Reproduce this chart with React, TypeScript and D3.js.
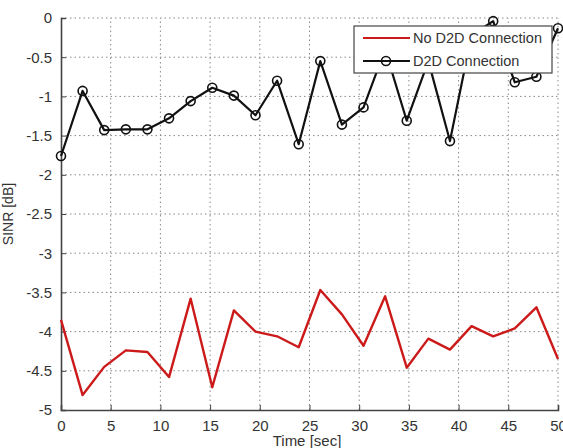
import React, {useRef, useEffect} from 'react';
import * as d3 from 'd3';

// time samples (24 points evenly over 0..50 sec)
const times = d3.range(24).map(i => i * 50 / 23);
const noD2D = [-3.85, -4.81, -4.45, -4.24, -4.26, -4.58, -3.58, -4.71, -3.73, -4.0, -4.06, -4.2,
  -3.47, -3.78, -4.18, -3.55, -4.46, -4.09, -4.23, -3.93, -4.06, -3.96, -3.69, -4.35];
const withD2D = [-1.76, -0.93, -1.43, -1.42, -1.42, -1.28, -1.06, -0.89, -0.99, -1.24, -0.8, -1.61,
  -0.55, -1.36, -1.14, -0.4, -1.31, -0.55, -1.57, -0.22, -0.04, -0.82, -0.75, -0.13];
const xTicks = [0, 5, 10, 15, 20, 25, 30, 35, 40, 45, 50];
const yTicks = [0, -0.5, -1, -1.5, -2, -2.5, -3, -3.5, -4, -4.5, -5];
const legendLabels = ['No D2D Connection', 'D2D Connection'];

export default function App() {
  const ref = useRef<SVGSVGElement>(null);
  const W = 563, H = 448;
  const margin = {top: 18, right: 5, bottom: 38, left: 61};

  useEffect(() => {
    const svg = d3.select(ref.current);
    svg.selectAll('*').remove();
    const font = 'Arial, "Liberation Sans", sans-serif';

    const x = d3.scaleLinear().domain([0, 50]).range([margin.left, W - margin.right]);
    const y = d3.scaleLinear().domain([-5, 0]).range([H - margin.bottom, margin.top]);

    // grid
    const grid = svg.append('g');
    grid.selectAll('line.gx').data(xTicks.slice(1)).enter().append('line')
      .attr('x1', d => x(d)).attr('x2', d => x(d))
      .attr('y1', y(-5)).attr('y2', y(0))
      .attr('stroke', '#888').attr('stroke-width', 1).attr('stroke-dasharray', '1.5,3');
    grid.selectAll('line.gy').data(yTicks.slice(0, -1)).enter().append('line')
      .attr('x1', x(0)).attr('x2', x(50))
      .attr('y1', d => y(d)).attr('y2', d => y(d))
      .attr('stroke', '#888').attr('stroke-width', 1).attr('stroke-dasharray', '1.5,3');

    // axes (ticks inside like matlab)
    const xAxis = svg.append('g').attr('transform', `translate(0,${y(-5)})`)
      .call(d3.axisBottom(x).tickValues(xTicks).tickSize(-5).tickPadding(10).tickFormat(d3.format('d')));
    const yAxis = svg.append('g').attr('transform', `translate(${x(0)},0)`)
      .call(d3.axisLeft(y).tickValues(yTicks).tickSize(-5).tickPadding(9).tickFormat(d => String(d)));
    [xAxis, yAxis].forEach(a => {
      a.select('.domain').attr('stroke', '#444').attr('stroke-width', 1.6);
      a.selectAll('.tick line').attr('stroke', '#444');
      a.selectAll('.tick text').attr('fill', '#333').style('font-family', font).style('font-size', '15px');
    });

    // lines
    const line = d3.line<number>().x((d, i) => x(times[i])).y(d => y(d));
    svg.append('path').datum(noD2D).attr('d', line).attr('fill', 'none')
      .attr('stroke', '#cc1a1a').attr('stroke-width', 2.4).attr('stroke-linejoin', 'round');
    svg.append('path').datum(withD2D).attr('d', line).attr('fill', 'none')
      .attr('stroke', '#111').attr('stroke-width', 2.2).attr('stroke-linejoin', 'round');
    svg.append('g').selectAll('circle').data(withD2D).enter().append('circle')
      .attr('cx', (d, i) => x(times[i])).attr('cy', d => y(d)).attr('r', 4.5)
      .attr('fill', 'none').attr('stroke', '#111').attr('stroke-width', 1.6);

    // axis labels
    svg.append('text').attr('x', 307).attr('y', H - 2)
      .attr('text-anchor', 'middle').attr('fill', '#333')
      .style('font-family', font).style('font-size', '15px').text('Time [sec]');
    svg.append('text').attr('transform', `translate(13,${(y(0) + y(-5)) / 2}) rotate(-90)`)
      .attr('text-anchor', 'middle').attr('fill', '#333')
      .style('font-family', font).style('font-size', '14px').text('SINR [dB]');

    // legend
    const lg = svg.append('g').attr('transform', 'translate(354,26)');
    lg.append('rect').attr('width', 198).attr('height', 47)
      .attr('fill', 'white').attr('stroke', '#444').attr('stroke-width', 1.2);
    const colors = ['#cc1a1a', '#111'];
    legendLabels.forEach((lab, i) => {
      const ly = 12 + i * 23;
      lg.append('line').attr('x1', 9).attr('x2', 56).attr('y1', ly).attr('y2', ly)
        .attr('stroke', colors[i]).attr('stroke-width', 2);
      if (i === 1) {
        lg.append('circle').attr('cx', 32).attr('cy', ly).attr('r', 4.5)
          .attr('fill', 'none').attr('stroke', '#111').attr('stroke-width', 1.6);
      }
      lg.append('text').attr('x', 59).attr('y', ly + 5).attr('fill', '#333')
        .style('font-family', font).style('font-size', '14.5px').text(lab);
    });
  }, []);

  return (
    <div style={{position: 'absolute', left: 0, top: 0, background: 'white'}}>
      <svg ref={ref} width={W} height={H} style={{display: 'block'}} />
    </div>
  );
}
